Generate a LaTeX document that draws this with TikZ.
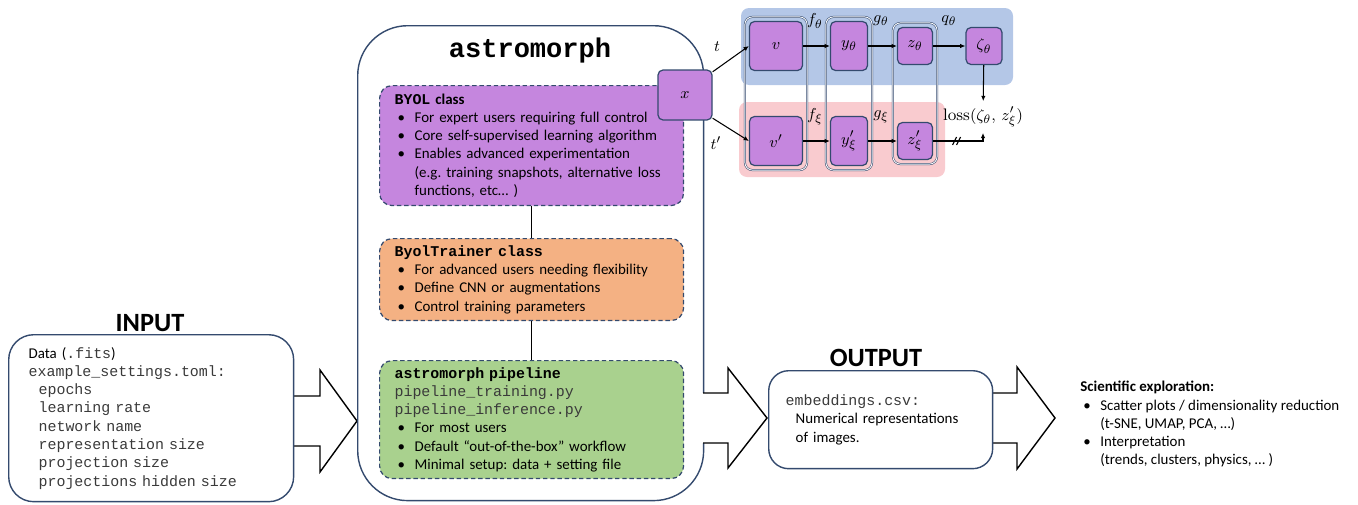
\documentclass[tikz,border=0pt]{standalone}
\usepackage{fontspec}
\setmainfont{Carlito}
\setmonofont{Liberation Mono}
\newfontfamily\lmfont{Latin Modern Roman}
\usetikzlibrary{positioning}
\usetikzlibrary{fit}
\usetikzlibrary{arrows.meta}

\definecolor{boxline}{HTML}{344A6E}
\definecolor{byolpurple}{HTML}{C586DE}
\definecolor{trainerorange}{HTML}{F4B183}
\definecolor{pipegreen}{HTML}{A9D18E}
\definecolor{onlineblue}{HTML}{B4C7E7}
\definecolor{targetpink}{HTML}{F9CBCF}
\definecolor{codegray}{HTML}{3A3A3A}

\newcommand{\bitem}{\makebox[0.4cm][l]{\hspace{0.06cm}\textbullet}}
\newcommand{\bindent}{\hspace*{0.4cm}}
\newcommand{\code}[1]{{\color{codegray}\texttt{#1}}}
\frenchspacing

\begin{document}
\begin{tikzpicture}[x=0.02cm,y=-0.02cm,
    txt/.style={font=\fontsize{8.5}{10.4}\selectfont},
    roundbox/.style={draw=boxline,line width=0.8pt,fill=white},
    classbox/.style={draw=boxline,dash pattern=on 2.5pt off 1.6pt,line width=0.7pt,rounded corners=0.25cm,
      anchor=north west,text width=5.48cm,align=left,inner xsep=0.3cm,inner ysep=0pt,txt},
    netnode/.style={draw=boxline,line width=0.7pt,fill=byolpurple,rounded corners=0.1cm,inner sep=0pt,
      font=\fontsize{9.5}{11}\selectfont},
    colbox/.style={draw=boxline,line width=0.3pt,double=white,double distance=0.5pt,rounded corners=0.15cm,inner sep=0.08cm},
    netarrow/.style={-{Latex[length=3pt,width=2.6pt]},line width=0.6pt},
    lab/.style={font=\fontsize{9.5}{11}\selectfont,inner sep=1pt},
    bigarrow/.style={draw=black,line width=0.8pt,fill=white},
    heading/.style={font=\fontsize{15}{18}\selectfont\bfseries}]
  \useasboundingbox (0,0) rectangle (1358,504);

  \foreach \xa/\xb/\xc/\ym in {280/320/357/421, 975/1017/1055/418} {
    \filldraw[bigarrow] (\xa,\ym-25) -- (\xb,\ym-25) -- (\xb,\ym-51) -- (\xc,\ym) -- (\xb,\ym+51) -- (\xb,\ym+25) -- (\xa,\ym+25) -- cycle;
  }

  \node[roundbox,rounded corners=0.5cm,anchor=north west,minimum width=5.7cm,minimum height=3.34cm,
    text width=4.9cm,align=left,inner xsep=0.4cm,txt] (inbox) at (8,334)
    {Data (\code{.fits})\\
     \code{example\_settings.toml:}\\
     \code{\ \ epochs}\\
     \code{\ \ learning rate}\\
     \code{\ \ network name}\\
     \code{\ \ representation size}\\
     \code{\ \ projection size}\\
     \code{\ \ projections hidden size}};
  \node[roundbox,rounded corners=1cm,anchor=north west,minimum width=6.92cm,minimum height=9.5cm] (astro) at (357,25) {};
  \node[roundbox,rounded corners=0.4cm,anchor=north west,minimum width=4.48cm,minimum height=1.96cm,
    text width=3.8cm,align=left,inner xsep=0.34cm,txt] (outbox) at (768,370)
    {\code{embeddings.csv:}\\
     \hspace*{0.2cm}Numerical representations\\
     \hspace*{0.2cm}of images.};

  \fill[white] (699,393) -- (728,393) -- (728,368) -- (767,418) -- (728,468) -- (728,443) -- (699,443) -- cycle;
  \draw[line width=0.8pt,line join=miter] (703,393) -- (728,393) -- (728,368) -- (767,418) -- (728,468) -- (728,443) -- (703,443);

  \node[font=\fontsize{15.4}{18}\selectfont\ttfamily\bfseries] (astrotitle) at (530,51) {astromorph};

  \node[classbox,fill=byolpurple,minimum height=2.4cm] (byol) at (379,85)
    {\textbf{\texttt{BYOL}\ class}\\
     \bitem For expert users requiring full control\\
     \bitem Core self-supervised learning algorithm\\
     \bitem Enables advanced experimentation\\
     \bindent(e.g. training snapshots, alternative loss\\
     \bindent functions, etc… )};
  \node[classbox,fill=trainerorange,minimum height=1.64cm] (trainer) at (379,238)
    {\textbf{\texttt{ByolTrainer class}}\\
     \bitem For advanced users needing flexibility\\
     \bitem Define CNN or augmentations\\
     \bitem Control training parameters};
  \node[classbox,fill=pipegreen,minimum height=2.36cm] (pipe) at (379,360)
    {\textbf{\texttt{astromorph pipeline}}\\
     \code{pipeline\_training.py}\\
     \code{pipeline\_inference.py}\\
     \bitem For most users\\
     \bitem Default “out-of-the-box” workflow\\
     \bitem Minimal setup: data + setting file};
  \draw[line width=0.7pt] (byol) -- (trainer);
  \draw[line width=0.7pt] (trainer) -- (pipe);

  \fill[onlineblue,rounded corners=0.16cm] (741,8) rectangle (1013,85);
  \fill[targetpink,rounded corners=0.16cm] (739,102) rectangle (945,177);

  \node[netnode,minimum width=1.06cm,minimum height=0.98cm] (v) at (776,46) {$v$};
  \node[netnode,minimum width=0.74cm,minimum height=0.98cm] (y) at (849,46) {$y_\theta$};
  \node[netnode,minimum width=0.7cm,minimum height=0.74cm] (z) at (915,46) {$z_\theta$};
  \node[netnode,minimum width=0.72cm,minimum height=0.74cm] (zeta) at (984,46) {$\zeta_\theta$};
  \node[netnode,minimum width=1.06cm,minimum height=0.98cm] (vp) at (776,141) {$v'$};
  \node[netnode,minimum width=0.74cm,minimum height=0.98cm] (yp) at (849,141) {$y'_\xi$};
  \node[netnode,minimum width=0.7cm,minimum height=0.74cm] (zp) at (915,141) {$z'_\xi$};
  \node[netnode,minimum width=1.08cm,minimum height=1.0cm] (x) at (685,95) {$x$};

  \node[colbox,fit=(v)(vp)] (colf) {};
  \node[colbox,fit=(y)(yp)] (colg) {};
  \node[colbox,fit=(z)(zp)] (colq) {};

  \node[lab] (ftheta) at (815,21) {$f_\theta$};
  \node[lab] (gtheta) at (881,21) {$g_\theta$};
  \node[lab] (qtheta) at (949,21) {$q_\theta$};
  \node[lab] (fxi) at (815,117) {$f_\xi$};
  \node[lab] (gxi) at (881,117) {$g_\xi$};
  \node[lab] (tlab) at (717,47) {$t$};
  \node[lab] (tplab) at (716,143) {$t'$};
  \node[lab,inner sep=3pt] (loss) at (983,117) {{\lmfont loss}$(\zeta_\theta,\,z'_\xi)$};

  \draw[netarrow] (x.40) -- (v.west);
  \draw[netarrow] (x.-40) -- (vp.west);
  \draw[netarrow] (v) -- (y);
  \draw[netarrow] (y) -- (z);
  \draw[netarrow] (z) -- (zeta);
  \draw[netarrow] (vp) -- (yp);
  \draw[netarrow] (yp) -- (zp);
  \draw[netarrow] (zeta) -- (loss);
  \draw[netarrow] (zp.east) -| coordinate[pos=0.235] (sg) (loss.south);
  \draw[line width=0.6pt] ([shift={(-4,4)}]sg) -- ++(4,-8) ([shift={(0,4)}]sg) -- ++(4,-8);

  \node[heading] (inlab) at (150,323) {INPUT};
  \node[heading] (outlab) at (876,358) {OUTPUT};

  \node[txt,anchor=north west,align=left,inner sep=0pt] (sci) at (1080,381)
    {\textbf{Scientific exploration:}\\
     \bitem Scatter plots / dimensionality reduction\\
     \bindent(t-SNE, UMAP, PCA, …)\\
     \bitem Interpretation\\
     \bindent(trends, clusters, physics, … )};
\end{tikzpicture}
\end{document}
